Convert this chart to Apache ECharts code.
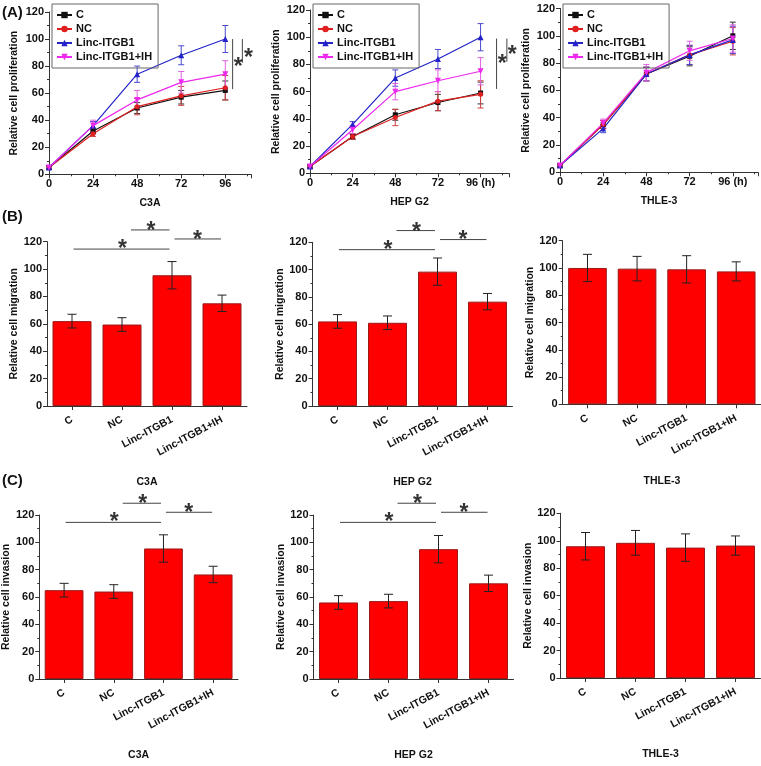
<!DOCTYPE html>
<html>
<head>
<meta charset="utf-8">
<script src="https://cdn.jsdelivr.net/npm/echarts@6/dist/echarts.min.js"></script>
<style>html,body{margin:0;padding:0;background:#fff}#c{width:761px;height:766px}</style>
</head>
<body>
<div id="c"></div>
<script>
// ---------- DATA ----------
const timePoints = [0, 24, 48, 72, 96];
const groupNames = ['C', 'NC', 'Linc-ITGB1', 'Linc-ITGB1+IH'];
const cellLines = ['C3A', 'HEP G2', 'THLE-3'];

// (A) proliferation, per cell line, per group: means and error
const prolC3A_C = [5, 32, 49, 57, 62];      const prolC3A_C_err = [1, 2, 4, 5, 7];
const prolC3A_NC = [5, 30, 50, 58, 64];     const prolC3A_NC_err = [1, 2, 6, 7, 9];
const prolC3A_L = [5, 36, 74, 88, 100];     const prolC3A_L_err = [1, 3, 6, 7, 10];
const prolC3A_LI = [5, 36, 55, 68, 74];     const prolC3A_LI_err = [1, 4, 7, 8, 10];

const prolHEP_C = [5, 27, 43, 52, 59];      const prolHEP_C_err = [1, 2, 4, 6, 8];
const prolHEP_NC = [5, 27, 41, 53, 58];     const prolHEP_NC_err = [1, 2, 6, 7, 10];
const prolHEP_L = [5, 36, 70, 84, 100];     const prolHEP_L_err = [1, 2, 6, 7, 10];
const prolHEP_LI = [5, 32, 60, 68, 75];     const prolHEP_LI_err = [1, 3, 6, 8, 10];

const prolTHLE_C = [5, 35, 72, 85, 100];    const prolTHLE_C_err = [1, 3, 5, 7, 10];
const prolTHLE_NC = [5, 35, 72, 86, 96];    const prolTHLE_NC_err = [1, 3, 5, 7, 10];
const prolTHLE_L = [5, 32, 72, 86, 97];     const prolTHLE_L_err = [1, 3, 5, 7, 10];
const prolTHLE_LI = [5, 36, 73, 89, 98];    const prolTHLE_LI_err = [1, 3, 6, 7, 10];

// (B) migration
const migC3A = [62, 59.5, 95.5, 75];        const migC3A_err = [5, 5, 10, 6];
const migHEP = [62, 61, 98.5, 76.5];        const migHEP_err = [5, 5, 10, 6];
const migTHLE = [100, 99.5, 99, 97.5];      const migTHLE_err = [10, 9, 10, 7];

// (C) invasion
const invC3A = [65, 64, 95.5, 76.5];        const invC3A_err = [5, 5, 10, 6];
const invHEP = [56, 57, 95, 70];            const invHEP_err = [5, 5, 10, 6];
const invTHLE = [96, 98.5, 95, 96.5];       const invTHLE_err = [10, 9, 10, 7];

// ---------- STYLE / LAYOUT ----------
const FONT = "'Liberation Sans', Arial, sans-serif";
const lineColors = ['#111111', '#e02020', '#2323c8', '#ee28ee'];
const errColors = ['#333333', '#d04040', '#4a4ad0', '#e060e0'];
const symbols = ['rect', 'circle', 'triangle', 'triangle'];
const symRot = [0, 0, 0, 180];
const symSize = [5, 5, 6, 6];

const lineGrids = [
  {left: 49, width: 202, top: 12, height: 162.3, xmax: 110, unit: false},
  {left: 310, width: 199, top: 10, height: 163.3, xmax: 112, unit: true},
  {left: 560, width: 201, top: 8.5, height: 163.8, xmax: 110, unit: true}
];
const barGridsB = [
  {left: 47, width: 200, top: 241.7, height: 164.3},
  {left: 312.5, width: 200, top: 242.3, height: 163.7},
  {left: 562.7, width: 200, top: 240.7, height: 163.6}
];
const barGridsC = [
  {left: 38, width: 200, top: 515, height: 164},
  {left: 313.5, width: 200, top: 515, height: 164},
  {left: 560.5, width: 200, top: 513.3, height: 164.7}
];
const lineYNameGap = [29, 28, 28];
const barYNameGap = [26, 27, 27];

const prolData = [
  [[prolC3A_C, prolC3A_C_err], [prolC3A_NC, prolC3A_NC_err], [prolC3A_L, prolC3A_L_err], [prolC3A_LI, prolC3A_LI_err]],
  [[prolHEP_C, prolHEP_C_err], [prolHEP_NC, prolHEP_NC_err], [prolHEP_L, prolHEP_L_err], [prolHEP_LI, prolHEP_LI_err]],
  [[prolTHLE_C, prolTHLE_C_err], [prolTHLE_NC, prolTHLE_NC_err], [prolTHLE_L, prolTHLE_L_err], [prolTHLE_LI, prolTHLE_LI_err]]
];
const migData = [[migC3A, migC3A_err], [migHEP, migHEP_err], [migTHLE, migTHLE_err]];
const invData = [[invC3A, invC3A_err], [invHEP, invHEP_err], [invTHLE, invTHLE_err]];

// significance annotations (data-space positions of brackets)
const lineSig = [
  {lines: [[[100, 100], [100, 63]], [[105.3, 100], [105.3, 82.5]]], stars: [[103, 83.5], [108.6, 90]]},
  {lines: [[[105, 99], [105, 62]], [[110.8, 99], [110.8, 82]]], stars: [[108.2, 84], [113.8, 90.5]]},
  null
];
const barSig = {lines: [[[0.03, 114.6], [1.95, 114.6]], [[1.18, 128.6], [1.95, 128.6]], [[2.05, 122], [2.98, 122]]],
                stars: [[1.01, 118.5], [1.58, 131.8], [2.51, 125.4]]};
const barSigFlags = [true, true, false];

// ---------- BUILD ----------
const grid = [], xAxis = [], yAxis = [], series = [], legend = [];

function axisCommon() {
  return {
    axisLine: {show: true, onZero: false, lineStyle: {color: '#333', width: 1}},
    axisTick: {show: true, length: 4, lineStyle: {color: '#333'}},
    splitLine: {show: false},
    axisLabel: {color: '#111', fontWeight: 'bold', fontSize: 11, fontFamily: FONT}
  };
}

function errRenderer(capHalf, color, lw) {
  return function (params, api) {
    const x = api.value(0), y = api.value(1), e = api.value(2);
    const t = api.coord([x, y + e]);
    const b = api.coord([x, y - e]);
    const st = {stroke: color, lineWidth: lw};
    return {type: 'group', children: [
      {type: 'line', shape: {x1: t[0], y1: t[1], x2: b[0], y2: b[1]}, style: st},
      {type: 'line', shape: {x1: t[0] - capHalf, y1: t[1], x2: t[0] + capHalf, y2: t[1]}, style: st},
      {type: 'line', shape: {x1: b[0] - capHalf, y1: b[1], x2: b[0] + capHalf, y2: b[1]}, style: st}
    ]};
  };
}

function addSig(sig, xi, yi) {
  sig.lines.forEach(function (seg) {
    series.push({type: 'line', xAxisIndex: xi, yAxisIndex: yi, data: seg, symbol: 'none', clip: false,
      lineStyle: {color: '#444', width: 1}, silent: true, z: 5});
  });
  series.push({type: 'scatter', xAxisIndex: xi, yAxisIndex: yi, data: sig.stars, symbolSize: 1, clip: false,
    itemStyle: {color: 'rgba(0,0,0,0)'}, silent: true, z: 6,
    label: {show: true, position: 'inside', formatter: '*', color: '#000', fontSize: 23, fontWeight: 'bold',
      fontFamily: FONT, offset: [0, 6], textBorderWidth: 0}});
}

// (A) line panels
lineGrids.forEach(function (g, p) {
  const gi = grid.length;
  grid.push({left: g.left, width: g.width, top: g.top, height: g.height});
  const xa = axisCommon();
  Object.assign(xa, {type: 'value', gridIndex: gi, min: 0, max: g.xmax, interval: 24,
    name: cellLines[p], nameLocation: 'middle', nameGap: 23,
    nameTextStyle: {fontWeight: 'bold', fontSize: 10.5, color: '#111', fontFamily: FONT},
    minorTick: {show: true, splitNumber: 2, length: 2, lineStyle: {color: '#333'}}});
  xa.axisLabel.margin = 4;
  xa.axisLabel.formatter = function (v) {
    if (v > 96) return '';
    return (g.unit && v === 96) ? '96 (h)' : String(v);
  };
  const xi = xAxis.length; xAxis.push(xa);
  const ya = axisCommon();
  Object.assign(ya, {type: 'value', gridIndex: gi, min: 0, max: 120, interval: 20,
    name: 'Relative cell proliferation', nameLocation: 'middle', nameGap: lineYNameGap[p],
    nameTextStyle: {fontWeight: 'bold', fontSize: 10.5, color: '#111', fontFamily: FONT},
    minorTick: {show: true, splitNumber: 2, length: 2, lineStyle: {color: '#333'}}});
  ya.axisLabel.margin = 5;
  const yi = yAxis.length; yAxis.push(ya);

  prolData[p].forEach(function (d, k) {
    series.push({type: 'custom', xAxisIndex: xi, yAxisIndex: yi, silent: true, z: 2,
      renderItem: errRenderer(3, errColors[k], 1),
      data: timePoints.map(function (t, i) { return [t, d[0][i], d[1][i]]; }),
      encode: {x: 0, y: 1}});
  });
  prolData[p].forEach(function (d, k) {
    series.push({type: 'line', name: groupNames[k], xAxisIndex: xi, yAxisIndex: yi, z: 3,
      data: timePoints.map(function (t, i) { return [t, d[0][i]]; }),
      symbol: symbols[k], symbolRotate: symRot[k], symbolSize: symSize[k], showSymbol: true,
      lineStyle: {color: lineColors[k], width: 1.2}, itemStyle: {color: lineColors[k]}});
  });
  if (lineSig[p]) addSig(lineSig[p], xi, yi);

  legend.push({data: groupNames, orient: 'vertical', left: g.left + 3, top: 4,
    borderColor: '#666', borderWidth: 1, padding: [5, 6, 5, 4], itemGap: 2,
    itemWidth: 15, itemHeight: 8, selectedMode: false,
    textStyle: {fontWeight: 'bold', fontSize: 11, color: '#111', fontFamily: FONT, lineHeight: 12, padding: [0, 0, 0, -1]}});
});

// (B),(C) bar panels
function barPanel(g, p, d, yname, sigOn) {
  const gi = grid.length;
  grid.push({left: g.left, width: g.width, top: g.top, height: g.height});
  const xa = axisCommon();
  Object.assign(xa, {type: 'category', gridIndex: gi, data: groupNames,
    name: cellLines[p], nameLocation: 'middle', nameGap: 71,
    nameTextStyle: {fontWeight: 'bold', fontSize: 10.5, color: '#111', fontFamily: FONT}});
  xa.axisTick = {show: true, alignWithLabel: true, length: 4, lineStyle: {color: '#333'}};
  xa.axisLabel.rotate = 28;
  xa.axisLabel.margin = 13;
  xa.axisLabel.fontSize = 10.5;
  const xi = xAxis.length; xAxis.push(xa);
  // hidden value axis for annotation placement
  const xh = xAxis.length;
  xAxis.push({type: 'value', gridIndex: gi, min: -0.5, max: 3.5, show: false,
    axisLine: {show: false, onZero: false}});
  const ya = axisCommon();
  Object.assign(ya, {type: 'value', gridIndex: gi, min: 0, max: 120, interval: 20,
    name: yname, nameLocation: 'middle', nameGap: barYNameGap[p],
    nameTextStyle: {fontWeight: 'bold', fontSize: 10.5, color: '#111', fontFamily: FONT},
    minorTick: {show: true, splitNumber: 2, length: 2, lineStyle: {color: '#333'}}});
  ya.axisLabel.margin = 5;
  const yi = yAxis.length; yAxis.push(ya);
  series.push({type: 'bar', xAxisIndex: xi, yAxisIndex: yi, data: d[0], barCategoryGap: '22%',
    itemStyle: {color: '#ff0000', borderColor: '#9a1a1a', borderWidth: 1}, z: 2, silent: true});
  series.push({type: 'custom', xAxisIndex: xi, yAxisIndex: yi, silent: true, z: 4,
    renderItem: errRenderer(4.5, '#222', 1),
    data: d[0].map(function (v, i) { return [i, v, d[1][i]]; }),
    encode: {x: 0, y: 1}});
  if (sigOn) addSig(barSig, xh, yi);
}
barGridsB.forEach(function (g, p) { barPanel(g, p, migData[p], 'Relative cell migration', barSigFlags[p]); });
barGridsC.forEach(function (g, p) { barPanel(g, p, invData[p], 'Relative cell invasion', barSigFlags[p]); });

const panelLabel = function (txt, y) {
  return {type: 'text', left: 2, top: y, style: {text: txt, font: "bold 15px 'Liberation Sans', Arial, sans-serif", fill: '#111'}};
};

const chart = echarts.init(document.getElementById('c'), null, {renderer: 'canvas'});
chart.setOption({
  animation: false,
  backgroundColor: '#ffffff',
  textStyle: {fontFamily: FONT},
  grid: grid, xAxis: xAxis, yAxis: yAxis, series: series, legend: legend,
  graphic: [panelLabel('(A)', 5), panelLabel('(B)', 209), panelLabel('(C)', 473)]
});
</script>
</body>
</html>
